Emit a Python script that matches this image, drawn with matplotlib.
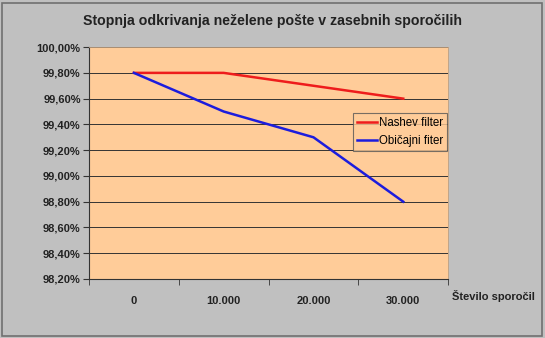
import matplotlib.pyplot as plt
from matplotlib.patches import Rectangle
from matplotlib.ticker import FuncFormatter, FixedLocator

# podatki
categories = ['0', '10.000', '20.000', '30.000']
nashev = [99.80, 99.80, 99.70, 99.60]
obicajni = [99.80, 99.50, 99.30, 98.80]
yticks = [98.2, 98.4, 98.6, 98.8, 99.0, 99.2, 99.4, 99.6, 99.8, 100.0]

plt.rcParams['font.family'] = ['Liberation Sans', 'DejaVu Sans']

fig = plt.figure(figsize=(5.45, 3.38), dpi=100)
fig.patch.set_facecolor('#c0c0c0')
# okvir slike
fig.patches.append(Rectangle((0.004, 0.006), 0.99, 0.985, transform=fig.transFigure,
                             fill=False, edgecolor='#707070', linewidth=1.2))

ax = fig.add_axes([0.1633, 0.1746, 0.659, 0.686])
ax.set_facecolor('#ffcc99')

x = list(range(len(categories)))
ax.plot(x, nashev, color='#ee1c1c', linewidth=1.8, label='Nashev filter')
ax.plot(x, obicajni, color='#1c1cdd', linewidth=1.8, label='Običajni fiter')

ax.set_xlim(-0.5, 3.5)
ax.set_ylim(98.2, 100.0)
ax.set_yticks(yticks)
ax.yaxis.set_major_formatter(FuncFormatter(lambda v, p: f'{v:.2f}'.replace('.', ',') + '%'))
ax.grid(axis='y', color='#333333', linewidth=0.7)

ax.set_xticks(x)
ax.set_xticklabels(categories)
ax.xaxis.set_minor_locator(FixedLocator([-0.5, 0.5, 1.5, 2.5, 3.5]))
ax.tick_params(axis='x', which='major', length=0, pad=12)
ax.tick_params(axis='x', which='minor', length=4, direction='out', color='#333333')
ax.tick_params(axis='y', length=4, direction='out', color='#333333', pad=2)
for lbl in ax.get_xticklabels() + ax.get_yticklabels():
    lbl.set_fontweight('bold')
    lbl.set_fontsize(8)
    lbl.set_color('#222222')

for side in ['top', 'right']:
    ax.spines[side].set_color('#c0a080')
    ax.spines[side].set_linewidth(0.6)
for side in ['left', 'bottom']:
    ax.spines[side].set_color('#333333')
    ax.spines[side].set_linewidth(0.8)

fig.text(0.5, 0.937, 'Stopnja odkrivanja neželene pošte v zasebnih sporočilih',
         ha='center', va='center', fontsize=10.2, fontweight='bold', color='#222222')
fig.text(0.905, 0.123, 'Število sporočil', ha='center', va='center',
         fontsize=8, fontweight='bold', color='#222222')

leg = ax.legend(loc='upper left', bbox_to_anchor=(0.735, 0.716), fontsize=8.3,
                frameon=True, fancybox=False, handlelength=1.7, handletextpad=0.2,
                borderpad=0.35, labelspacing=0.5, borderaxespad=0)
leg.get_frame().set_facecolor('#ffcc99')
leg.get_frame().set_edgecolor('#555555')
leg.get_frame().set_linewidth(0.8)

fig.savefig('out.png', dpi=100, facecolor=fig.get_facecolor())
